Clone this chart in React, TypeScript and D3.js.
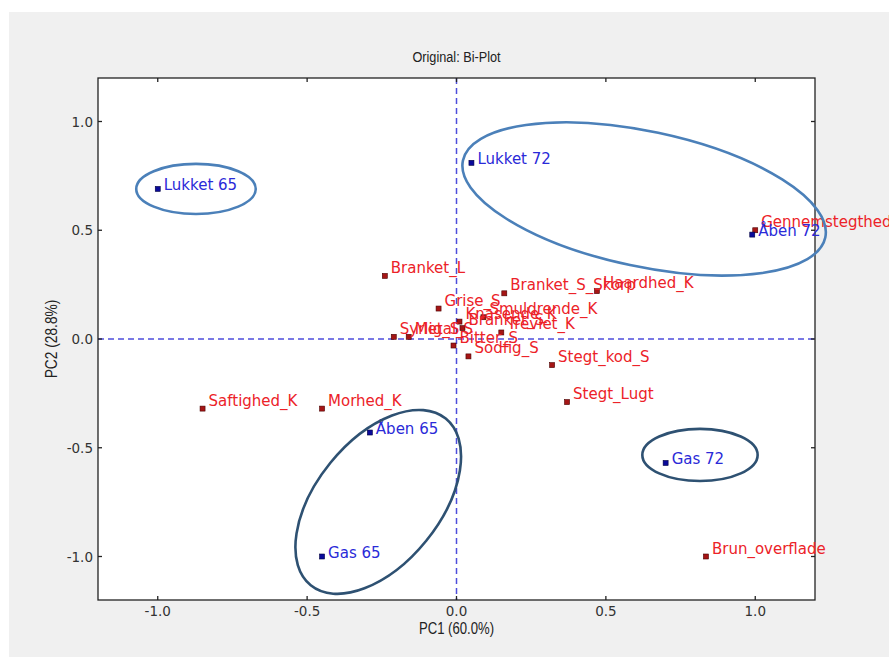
import { useEffect, useRef } from 'react';
import * as d3 from 'd3';

// sample scores
const sampleNames = ['Lukket 65', 'Lukket 72', 'Åben 72', 'Åben 65', 'Gas 65', 'Gas 72'];
const samplePC1 = [-1.0, 0.05, 0.99, -0.29, -0.45, 0.7];
const samplePC2 = [0.69, 0.81, 0.48, -0.43, -1.0, -0.57];

// attribute loadings
const attrNames = [
  'Gennemstegthed', 'Branket_L', 'Branket_S_Skorp', 'Haardhed_K', 'Grise_S',
  'Knasende_K', 'Smuldrende_K', 'Branket_S', 'Trevlet_K', 'Syrlig_S', 'Metal_S',
  'Bitter_S', 'Sodfig_S', 'Stegt_kod_S', 'Stegt_Lugt', 'Saftighed_K', 'Morhed_K',
  'Brun_overflade',
];
const attrPC1 = [1.0, -0.24, 0.16, 0.47, -0.06, 0.01, 0.09, 0.02, 0.15, -0.21, -0.16, -0.01, 0.04, 0.32, 0.37, -0.85, -0.45, 0.835];
const attrPC2 = [0.5, 0.29, 0.21, 0.22, 0.14, 0.08, 0.1, 0.05, 0.03, 0.01, 0.01, -0.03, -0.08, -0.12, -0.29, -0.32, -0.32, -1.0];

// group ellipses (centre in PC units, radii in PC1/PC2 units, screen rotation in degrees)
const groupCx = [-0.872, 0.628, 0.815, -0.262];
const groupCy = [0.69, 0.644, -0.533, -0.749];
const groupRx = [0.2, 0.62, 0.193, 0.359];
const groupRy = [0.115, 0.311, 0.12, 0.284];
const groupAngle = [0, 12, 0, -51];
const groupTone = ['light', 'light', 'dark', 'dark'];

const ticks = [-1.0, -0.5, 0.0, 0.5, 1.0];
const domain = [-1.2, 1.2];

export default function App() {
  const svgRef = useRef<SVGSVGElement | null>(null);

  useEffect(() => {
    if (!svgRef.current) return;
    const W = 889, H = 657;
    const m = { left: 98, top: 78, right: 815, bottom: 600 };

    const svg = d3.select(svgRef.current);
    svg.selectAll('*').remove();
    svg.attr('width', W).attr('height', H);

    const x = d3.scaleLinear().domain(domain).range([m.left, m.right]);
    const y = d3.scaleLinear().domain(domain).range([m.bottom, m.top]);
    const kx = x(1) - x(0);
    const ky = y(0) - y(1);

    // backgrounds
    svg.append('rect').attr('width', W).attr('height', H).attr('fill', '#fff');
    svg.append('rect').attr('x', 9).attr('y', 12).attr('width', W - 9).attr('height', H - 12).attr('fill', '#f0f0f0');
    svg.append('rect')
      .attr('x', m.left).attr('y', m.top)
      .attr('width', m.right - m.left).attr('height', m.bottom - m.top)
      .attr('fill', '#fff');

    // zero lines
    svg.append('line')
      .attr('x1', x(0)).attr('x2', x(0)).attr('y1', m.top).attr('y2', m.bottom)
      .attr('stroke', '#4d4ddb').attr('stroke-width', 1.5).attr('stroke-dasharray', '6,4');
    svg.append('line')
      .attr('x1', m.left).attr('x2', m.right).attr('y1', y(0)).attr('y2', y(0))
      .attr('stroke', '#4d4ddb').attr('stroke-width', 1.5).attr('stroke-dasharray', '6,4');

    // frame + inward ticks
    const frame = svg.append('g').attr('stroke', '#222').attr('stroke-width', 1.3);
    frame.append('rect')
      .attr('x', m.left).attr('y', m.top)
      .attr('width', m.right - m.left).attr('height', m.bottom - m.top)
      .attr('fill', 'none');
    ticks.forEach((t) => {
      frame.append('line').attr('x1', x(t)).attr('x2', x(t)).attr('y1', m.bottom).attr('y2', m.bottom - 4);
      frame.append('line').attr('x1', x(t)).attr('x2', x(t)).attr('y1', m.top).attr('y2', m.top + 4);
      frame.append('line').attr('y1', y(t)).attr('y2', y(t)).attr('x1', m.left).attr('x2', m.left + 4);
      frame.append('line').attr('y1', y(t)).attr('y2', y(t)).attr('x1', m.right).attr('x2', m.right - 4);
    });

    // tick labels
    const tickFont = 'DejaVu Sans, sans-serif';
    svg.selectAll('text.xt')
      .data(ticks)
      .join('text')
      .attr('class', 'xt')
      .attr('x', (t) => x(t))
      .attr('y', m.bottom + 16)
      .attr('text-anchor', 'middle')
      .attr('font-family', tickFont)
      .attr('font-size', 13.5)
      .attr('fill', '#333')
      .text((t) => t.toFixed(1));
    svg.selectAll('text.yt')
      .data(ticks)
      .join('text')
      .attr('class', 'yt')
      .attr('x', m.left - 5)
      .attr('y', (t) => y(t) + 5)
      .attr('text-anchor', 'end')
      .attr('font-family', tickFont)
      .attr('font-size', 13.5)
      .attr('fill', '#333')
      .text((t) => t.toFixed(1));

    // title and axis labels (narrow sans, squeezed horizontally)
    const labFont = 'Liberation Sans, Arial, sans-serif';
    svg.append('text')
      .attr('transform', `translate(${(m.left + m.right) / 2},62) scale(0.82,1)`)
      .attr('text-anchor', 'middle').attr('font-family', labFont).attr('font-size', 15.5)
      .attr('fill', '#222').text('Original: Bi-Plot');
    svg.append('text')
      .attr('transform', `translate(${(m.left + m.right) / 2},634) scale(0.82,1)`)
      .attr('text-anchor', 'middle').attr('font-family', labFont).attr('font-size', 16)
      .attr('fill', '#222').text('PC1 (60.0%)');
    svg.append('text')
      .attr('transform', `translate(57,${(m.top + m.bottom) / 2}) rotate(-90) scale(0.86,1)`)
      .attr('text-anchor', 'middle').attr('font-family', labFont).attr('font-size', 16)
      .attr('fill', '#222').text('PC2 (28.8%)');

    // attributes
    const attrs = attrNames.map((n, i) => ({ n, a: attrPC1[i], b: attrPC2[i] }));
    svg.selectAll('rect.attr')
      .data(attrs)
      .join('rect')
      .attr('class', 'attr')
      .attr('x', (d) => x(d.a) - 2.5).attr('y', (d) => y(d.b) - 2.5)
      .attr('width', 5).attr('height', 5)
      .attr('fill', '#a51515').attr('stroke', '#4a0000').attr('stroke-width', 0.6);
    svg.selectAll('text.attr')
      .data(attrs)
      .join('text')
      .attr('class', 'attr')
      .attr('x', (d) => x(d.a) + 6).attr('y', (d) => y(d.b) - 3)
      .attr('font-family', tickFont).attr('font-size', 15)
      .attr('fill', '#ec2228')
      .text((d) => d.n);

    // samples
    const samples = sampleNames.map((n, i) => ({ n, a: samplePC1[i], b: samplePC2[i] }));
    svg.selectAll('rect.smp')
      .data(samples)
      .join('rect')
      .attr('class', 'smp')
      .attr('x', (d) => x(d.a) - 2.5).attr('y', (d) => y(d.b) - 2.5)
      .attr('width', 5).attr('height', 5)
      .attr('fill', '#0a0a9a').attr('stroke', '#000040').attr('stroke-width', 0.6);
    svg.selectAll('text.smp')
      .data(samples)
      .join('text')
      .attr('class', 'smp')
      .attr('x', (d) => x(d.a) + 6).attr('y', (d) => y(d.b) + 1)
      .attr('font-family', tickFont).attr('font-size', 15)
      .attr('fill', '#2a2ad8')
      .text((d) => d.n);

    // group ellipses
    const groups = groupCx.map((c, i) => ({
      cx: x(c), cy: y(groupCy[i]), rx: groupRx[i] * kx, ry: groupRy[i] * ky,
      ang: groupAngle[i], tone: groupTone[i],
    }));
    svg.selectAll('ellipse.grp')
      .data(groups)
      .join('ellipse')
      .attr('class', 'grp')
      .attr('cx', (d) => d.cx).attr('cy', (d) => d.cy)
      .attr('rx', (d) => d.rx).attr('ry', (d) => d.ry)
      .attr('transform', (d) => `rotate(${d.ang},${d.cx},${d.cy})`)
      .attr('fill', 'none')
      .attr('stroke', (d) => (d.tone === 'light' ? '#4b80b9' : '#2e5172'))
      .attr('stroke-width', 2.6);
  }, []);

  return (
    <svg ref={svgRef} style={{ position: 'absolute', left: 0, top: 0, display: 'block' }} />
  );
}
